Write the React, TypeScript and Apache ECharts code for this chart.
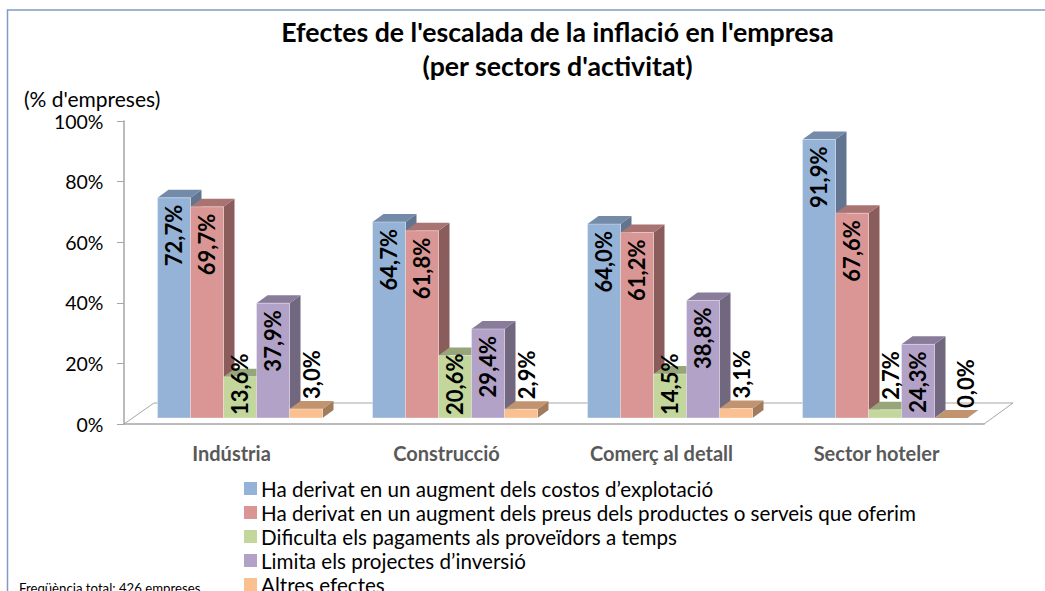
import React, { useEffect, useRef } from "react";
import * as echarts from "echarts";

const categories = ["Indústria", "Construcció", "Comerç al detall", "Sector hoteler"];
const seriesNames = [
  "Ha derivat en un augment dels costos d’explotació",
  "Ha derivat en un augment dels preus dels productes o serveis que oferim",
  "Dificulta els pagaments als proveïdors a temps",
  "Limita els projectes d’inversió",
  "Altres efectes",
];
const costos = [72.7, 64.7, 64.0, 91.9];
const preus = [69.7, 61.8, 61.2, 67.6];
const pagaments = [13.6, 20.6, 14.5, 2.7];
const inversio = [37.9, 29.4, 38.8, 24.3];
const altres = [3.0, 2.9, 3.1, 0.0];
const yTicks = [0, 20, 40, 60, 80, 100];

const allValues = [costos, preus, pagaments, inversio, altres];
const frontColors = ["#95B3D7", "#D99694", "#C3D69B", "#B3A2C7", "#FAC090"];
const topColors = ["#738AA8", "#A87371", "#97A678", "#897C9A", "#C1946F"];
const sideColors = ["#617591", "#8A5C5C", "#7C8862", "#71687F", "#A07B5C"];

const FONT = "Lato, Carlito, Calibri, sans-serif";
const DEPTH_X = 11;
const DEPTH_Y = 8;
const BASE_DX = 8.5;
const BASE_DY = -6;
const BAR_RATIO = 33 / 215;

const fmt = (v: number) => v.toFixed(1).replace(".", ",") + "%";

function makeBarSeries(idx: number) {
  return {
    type: "custom",
    name: seriesNames[idx],
    coordinateSystem: "cartesian2d",
    itemStyle: { color: frontColors[idx] },
    clip: false,
    encode: { x: 0, y: 1 },
    data: allValues[idx].map((v, i) => [i, v]),
    renderItem: (_params: any, api: any) => {
      const cat = api.value(0);
      const val = api.value(1);
      const band = api.size([1, 0])[0];
      const w = band * BAR_RATIO;
      const top = api.coord([cat, val]);
      const base = api.coord([cat, 0]);
      const x0 = top[0] - (w * 5) / 2 + idx * w + BASE_DX;
      const y0 = top[1] + BASE_DY;
      const yb = base[1] + BASE_DY;
      const x1 = x0 + w;
      const children: any[] = [
        {
          type: "polygon",
          z2: idx * 3 + 1,
          shape: { points: [[x1, y0], [x1 + DEPTH_X, y0 - DEPTH_Y], [x1 + DEPTH_X, yb - DEPTH_Y], [x1, yb]] },
          style: { fill: sideColors[idx] },
        },
        {
          type: "polygon",
          z2: idx * 3 + 2,
          shape: { points: [[x0, y0], [x0 + DEPTH_X, y0 - DEPTH_Y], [x1 + DEPTH_X, y0 - DEPTH_Y], [x1, y0]] },
          style: { fill: topColors[idx] },
        },
      ];
      if (val > 0) {
        children.push({
          type: "rect",
          z2: idx * 3 + 3,
          shape: { x: x0, y: y0, width: w, height: yb - y0 },
          style: { fill: frontColors[idx], stroke: "rgba(255,255,255,0.35)", lineWidth: 1 },
        });
      }
      // value label, rotated, drawn above every bar
      let labelY: number;
      let labelAlign: "left" | "right";
      let labelDx = -1;
      if (val < 10) {
        labelY = y0 - 10;
        labelAlign = "left";
        labelDx = val === 0 ? 14 : 5;
      } else if (val < 22) {
        labelY = yb - 3;
        labelAlign = "left";
      } else {
        labelY = y0 + 7;
        labelAlign = "right";
      }
      children.push({
        type: "text",
        z2: 100,
        x: x0 + w / 2 + labelDx,
        y: labelY,
        rotation: Math.PI / 2,
        style: {
          text: fmt(val),
          fill: "#000000",
          font: `700 22px ${FONT}`,
          align: labelAlign,
          verticalAlign: "middle",
        },
      });
      return { type: "group", children };
    },
  };
}

const floorSeries = {
  type: "custom",
  name: "floor",
  coordinateSystem: "cartesian2d",
  silent: true,
  clip: false,
  data: [[0, 0]],
  renderItem: (_p: any, api: any) => {
    const band = api.size([1, 0])[0];
    const o = api.coord([0, 0]);
    const left = o[0] - band / 2;
    const right = left + band * categories.length;
    const y = o[1];
    return {
      type: "polyline",
      z2: 0,
      shape: { points: [[left, y], [left + 30, y - 21], [right + 29, y - 21], [right, y]] },
      style: { fill: "none", stroke: "#A6A6A6", lineWidth: 1 },
    };
  },
};

export default function App() {
  const ref = useRef<HTMLDivElement>(null);
  useEffect(() => {
    const chart = echarts.init(ref.current!, undefined, { renderer: "svg" });
    chart.setOption({
      animation: false,
      backgroundColor: "#FFFFFF",
      title: {
        text: "Efectes de l'escalada de la inflació en l'empresa\n(per sectors d'activitat)",
        left: 552.5,
        top: 10,
        textAlign: "center",
        textStyle: { fontFamily: FONT, fontSize: 26.7, fontWeight: 700, color: "#000000", lineHeight: 34 },
      },
      grid: { left: 124, top: 121, width: 860, height: 303 },
      xAxis: {
        type: "category",
        data: categories,
        axisLine: { lineStyle: { color: "#A6A6A6", width: 1.5 } },
        axisTick: { length: 7, lineStyle: { color: "#A6A6A6", width: 1 } },
        axisLabel: { color: "#595959", fontFamily: FONT, fontSize: 20, fontWeight: 700, margin: 19 },
      },
      yAxis: {
        type: "value",
        min: 0,
        max: 100,
        interval: 20,
        splitLine: { show: false },
        axisLine: { show: true, lineStyle: { color: "#A6A6A6", width: 1.5 } },
        axisTick: { show: true, length: 7, lineStyle: { color: "#A6A6A6", width: 1 } },
        axisLabel: {
          color: "#000000",
          fontFamily: FONT,
          fontSize: 19.5,
          margin: 20.5,
          formatter: (v: number) => (yTicks.includes(v) ? `${v}%` : ""),
        },
      },
      legend: {
        data: seriesNames,
        orient: "vertical",
        left: 244,
        top: 478,
        height: 140,
        icon: "rect",
        itemWidth: 13,
        itemHeight: 13,
        itemGap: 3,
        padding: 0,
        selectedMode: false,
        textStyle: { fontFamily: FONT, fontSize: 20.6, color: "#000000", padding: [0, 0, 0, -1], lineHeight: 21 },
      },
      graphic: [
        {
          type: "rect",
          silent: true,
          z: -1,
          shape: { x: 7.5, y: 10, width: 1100, height: 700 },
          style: { fill: "none", stroke: "#7F9DC4", lineWidth: 1.5 },
        },
        {
          type: "text",
          x: 24,
          y: 88,
          style: { text: "(% d'empreses)", font: `21px ${FONT}`, fill: "#000000" },
        },
        {
          type: "text",
          x: 19,
          y: 581,
          style: { text: "Freqüència total: 426 empreses", font: `13.2px ${FONT}`, fill: "#000000" },
        },
      ],
      series: [floorSeries, ...seriesNames.map((_, i) => makeBarSeries(i))],
    });
    return () => chart.dispose();
  }, []);
  return <div ref={ref} style={{ position: "absolute", left: 0, top: 0, width: 1045, height: 591 }} />;
}
